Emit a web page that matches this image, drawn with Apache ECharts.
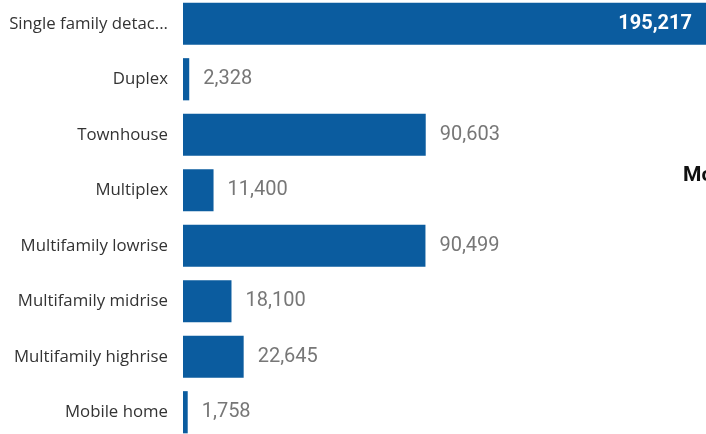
<!DOCTYPE html>
<html><head><meta charset="utf-8">
<script src="https://cdn.jsdelivr.net/npm/echarts@6/dist/echarts.min.js"></script>
<style>html,body{margin:0;padding:0;background:#fff}#c{width:706px;height:434px}</style>
</head><body><div id="c"></div>
<script>
const categories = ["Single family detac...","Duplex","Townhouse","Multiplex","Multifamily lowrise","Multifamily midrise","Multifamily highrise","Mobile home"];
const values = [195217,2328,90603,11400,90499,18100,22645,1758];
const chart = echarts.init(document.getElementById('c'));
const fmt = v => v.toLocaleString('en-US');
chart.setOption({
  animation:false,
  grid:{left:183,right:0,top:-4,height:444,containLabel:false,outerBoundsMode:'none'},
  xAxis:{type:'value',min:0,max:195217,show:false},
  yAxis:{type:'category',data:categories,inverse:true,
    axisLine:{show:false},axisTick:{show:false},
    axisLabel:{margin:15,color:'#333',fontSize:16.8,fontFamily:'Open Sans'}},
  series:[{type:'bar',data:values.map((v,i)=>i===0?{value:v,label:{position:'insideRight',color:'#fff',fontWeight:'bold',offset:[0,0]}}:v),
    barWidth:'76%',itemStyle:{color:'#0b5c9f'},
    label:{show:true,position:'right',distance:14,color:'#777',fontSize:20,fontFamily:'Roboto',formatter:p=>fmt(p.value)}}],
  graphic:[{type:'text',left:683,top:165,style:{text:'Mo',font:'bold 21px Roboto',fill:'#111'}}]
});
</script></body></html>
